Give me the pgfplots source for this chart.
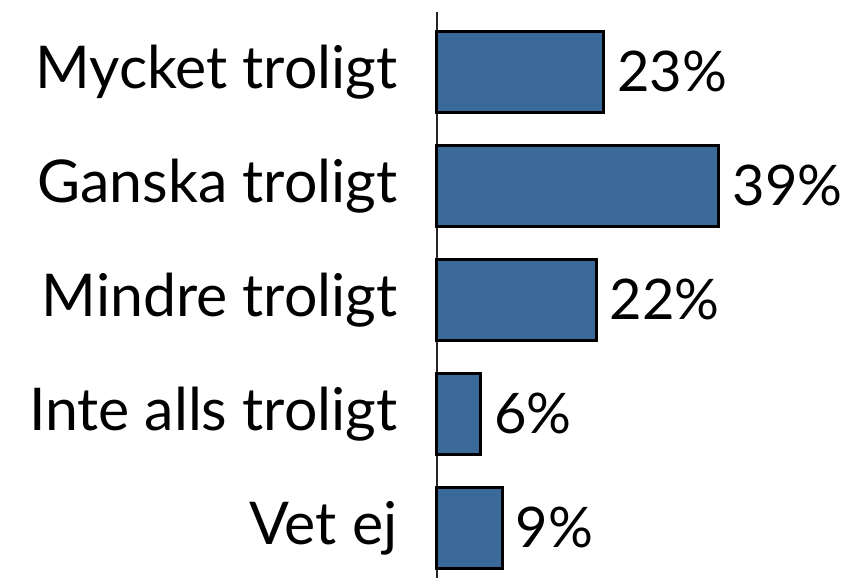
\documentclass[border=0pt]{standalone}
\usepackage{pgfplots}
\pgfplotsset{compat=1.18}
\usepackage{fontspec}
\setmainfont{Lato}
\definecolor{barblue}{HTML}{3B6998}
\begin{document}
\begin{tikzpicture}
\useasboundingbox (-437pt,0pt) rectangle (427pt,578pt);
\begin{axis}[
  at={(0pt,0pt)}, anchor=south west,
  scale only axis,
  width=361.5pt, height=566pt,
  xmin=0, xmax=50,
  ymin=-0.44, ymax=4.526,
  xbar, bar width=81pt,
  axis x line=none,
  axis y line*=left,
  y axis line style={line width=1.5pt, draw=black!85, -},
  ytick={0,1,2,3,4},
  yticklabels={Vet ej, Inte alls troligt, Mindre troligt, Ganska troligt, Mycket troligt},
  major tick length=0pt,
  /pgf/number format/assume math mode=true,
  yticklabel style={font=\fontsize{59}{63}\selectfont, xshift=-36pt},
  nodes near coords={\pgfmathprintnumber{\pgfplotspointmeta}\%},
  nodes near coords style={font=\fontsize{56}{60}\selectfont, xshift=9pt},
  point meta=x,
  clip=false,
]
\addplot[fill=barblue, draw=black, line width=3pt] coordinates {
  (9,0) (6,1) (22,2) (39,3) (23,4)
};
\end{axis}
\end{tikzpicture}
\end{document}
